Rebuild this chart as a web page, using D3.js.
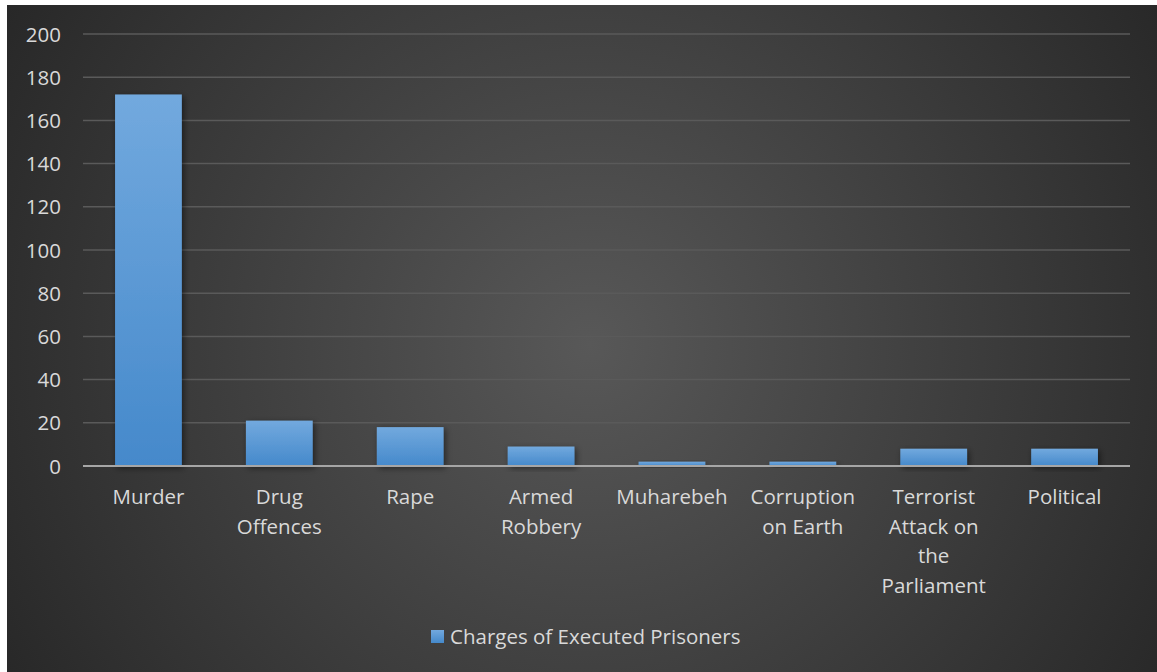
<!DOCTYPE html>
<html><head><meta charset="utf-8">
<script src="https://cdn.jsdelivr.net/npm/d3@7"></script>
<style>body{margin:0;background:#fff;}svg{display:block;}</style>
</head><body>
<svg id="c" width="1157" height="672"></svg>
<script>
const categories = ["Murder","Drug Offences","Rape","Armed Robbery","Muharebeh","Corruption on Earth","Terrorist Attack on the Parliament","Political"];
const labelLines = [["Murder"],["Drug","Offences"],["Rape"],["Armed","Robbery"],["Muharebeh"],["Corruption","on Earth"],["Terrorist","Attack on","the","Parliament"],["Political"]];
const values = [172, 21, 18, 9, 2, 2, 8, 8];
const yTicks = [0,20,40,60,80,100,120,140,160,180,200];
const seriesName = "Charges of Executed Prisoners";

const svg = d3.select("#c");
const defs = svg.append("defs");
const bg = defs.append("radialGradient").attr("id","bg").attr("gradientUnits","userSpaceOnUse")
  .attr("cx",590).attr("cy",345).attr("r",700);
bg.append("stop").attr("offset","0").attr("stop-color","#585858");
bg.append("stop").attr("offset","1").attr("stop-color","#262626");
const bar = defs.append("linearGradient").attr("id","bar").attr("x1",0).attr("y1",0).attr("x2",0).attr("y2",1);
bar.append("stop").attr("offset","0").attr("stop-color","#72a9de");
bar.append("stop").attr("offset","1").attr("stop-color","#4589cb");
const sh = defs.append("filter").attr("id","sh").attr("x","-20%").attr("y","-20%").attr("width","150%").attr("height","150%");
sh.append("feDropShadow").attr("dx",2).attr("dy",2).attr("stdDeviation",3).attr("flood-color","#000").attr("flood-opacity",0.5);

svg.append("rect").attr("x",7).attr("y",5).attr("width",1150).attr("height",667).attr("fill","url(#bg)");

const x = d3.scaleBand().domain(categories).range([83,1130]).paddingInner(0.49).paddingOuter(0.245);
const y = d3.scaleLinear().domain([0,200]).range([466,34]);

const font = "Open Sans, sans-serif";
const fs = 20.5;
// gridlines
svg.append("g").selectAll("line").data(yTicks.filter(d=>d>0)).join("line")
  .attr("x1",83).attr("x2",1130).attr("y1",d=>y(d)).attr("y2",d=>y(d))
  .attr("stroke","#5a5a5a").attr("stroke-width",1.5);

// y axis
const ya = svg.append("g").attr("transform","translate(61,0)")
  .call(d3.axisLeft(y).tickValues(yTicks).tickSize(0).tickPadding(0));
ya.select(".domain").remove();
ya.selectAll("text").attr("font-family",font).attr("font-size",fs).attr("fill","#d9d9d9").attr("dy","0.35em");

// bars
svg.append("g").selectAll("rect").data(values).join("rect")
  .attr("x",(d,i)=>x(categories[i])).attr("width",x.bandwidth())
  .attr("y",d=>y(d)).attr("height",d=>y(0)-y(d))
  .attr("fill","url(#bar)").attr("filter","url(#sh)");

// x axis line
svg.append("line").attr("x1",83).attr("x2",1130).attr("y1",y(0)).attr("y2",y(0))
  .attr("stroke","#a6a6a6").attr("stroke-width",2);

// x labels
const xl = svg.append("g").selectAll("text").data(categories).join("text")
  .attr("x",d=>x(d)+x.bandwidth()/2).attr("y",504)
  .attr("text-anchor","middle").attr("font-family",font).attr("font-size",fs).attr("fill","#d9d9d9");
xl.each(function(d,i){
  d3.select(this).selectAll("tspan").data(labelLines[i]).join("tspan")
    .attr("x",x(d)+x.bandwidth()/2).attr("dy",(t,j)=>j===0?0:29.5).text(t=>t);
});

// legend
const lg = svg.append("g");
lg.append("rect").attr("x",431).attr("y",630).attr("width",13).attr("height",13).attr("fill","url(#bar)");
lg.append("text").attr("x",450).attr("y",644).attr("font-family",font).attr("font-size",fs).attr("fill","#d9d9d9").text(seriesName);
</script>
</body></html>
